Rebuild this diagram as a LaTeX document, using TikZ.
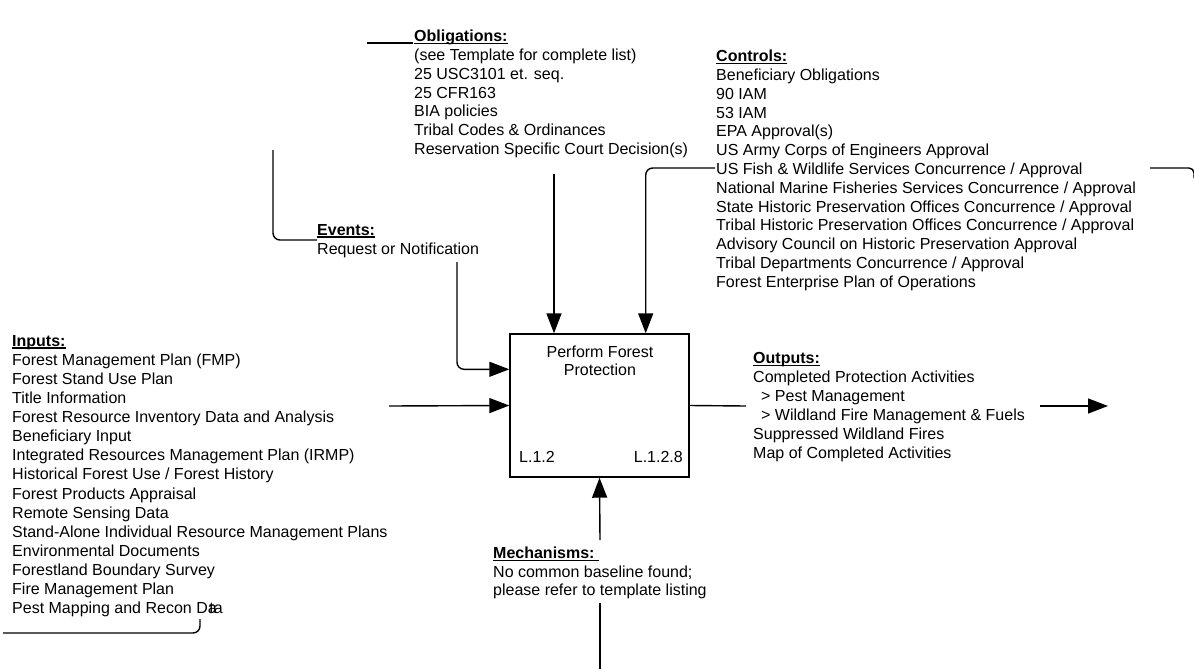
\documentclass[tikz,border=0pt]{standalone}
\usepackage{fontspec}
\setmainfont{Liberation Sans}
\usetikzlibrary{arrows.meta,calc}
% bold heading with a firm underline
\newlength\idefheadwd
\newcommand\idefhead[1]{\settowidth\idefheadwd{\textbf{#1}}%
  \textbf{#1}\llap{\rule[-2.4pt]{\idefheadwd}{1.2pt}}}
\begin{document}
\begin{tikzpicture}[x=1pt,y=-1pt,
  txt/.style={inner sep=0pt, anchor=north west, align=left,
              font=\fontsize{16}{#1}\selectfont},
  txt/.default=18.8,
  lbl/.style={inner sep=0pt, font=\fontsize{16}{18}\selectfont},
  conn/.style={line width=1.4pt, rounded corners=7pt},
  arr/.style={conn, -{Triangle[length=20pt,width=15pt]}}]
\useasboundingbox[fill=white] (0,0) rectangle (1194,669);

% activity box
\node[draw, line width=1.4pt, minimum width=179pt, minimum height=143pt,
      inner sep=0pt] (P) at (599.5,405.5) {};
\node[lbl, align=center, anchor=north] (Ptitle) at (600,346)
  {Perform Forest\\Protection};
\node[lbl, anchor=west] (Pnode) at (519,457) {L.1.2};
\node[lbl, anchor=east] (Pref) at (683,457) {L.1.2.8};

% text blocks
\node[txt] (obl) at (414,30) {\idefhead{Obligations:}\\
  (see Template for complete list)\\
  25 USC3101 et. seq.\\
  25 CFR163\\
  BIA policies\\
  Tribal Codes \& Ordinances\\
  Reservation Specific Court Decision(s)};

\node[txt] (ctl) at (716,50) {\idefhead{Controls:}\\
  Beneficiary Obligations\\
  90 IAM\\
  53 IAM\\
  EPA Approval(s)\\
  US Army Corps of Engineers Approval\\
  US Fish \& Wildlife Services Concurrence / Approval\\
  National Marine Fisheries Services Concurrence / Approval\\
  State Historic Preservation Offices Concurrence / Approval\\
  Tribal Historic Preservation Offices Concurrence / Approval\\
  Advisory Council on Historic Preservation Approval\\
  Tribal Departments Concurrence / Approval\\
  Forest Enterprise Plan of Operations};

\node[txt=19] (ev) at (317,224) {\idefhead{Events:}\\
  Request or Notification};

\node[txt=19.1] (inp) at (12,335) {\idefhead{Inputs:}\\
  Forest Management Plan (FMP)\\
  Forest Stand Use Plan\\
  Title Information\\
  Forest Resource Inventory Data and Analysis\\
  Beneficiary Input\\
  Integrated Resources Management Plan (IRMP)\\
  Historical Forest Use / Forest History\\
  Forest Products Appraisal\\
  Remote Sensing Data\\
  Stand-Alone Individual Resource Management Plans\\
  Environmental Documents\\
  Forestland Boundary Survey\\
  Fire Management Plan\\
  Pest Mapping and Recon D\rlap{a}\kern1.5pt ta};

\node[txt=19] (out) at (753,352) {\idefhead{Outputs:}\\
  Completed Protection Activities\\
  \hspace{8pt}> Pest Management\\
  \hspace{8pt}> Wildland Fire Management \& Fuels\\
  Suppressed Wildland Fires\\
  Map of Completed Activities};

\node[txt=18.5] (mech) at (493,547) {\idefhead{Mechanisms:\ }\\
  No common baseline found;\\
  please refer to template listing};

% free ends of the connectors
\coordinate (oblA) at (367,43);
\coordinate (oblB) at (413,43);
\coordinate (oblDown) at (554,174);
\coordinate (evTop) at (273,150);
\coordinate (evEnd) at (317,240);
\coordinate (evDown) at (457,262);
\coordinate (ctlIn) at (715,168);
\coordinate (ctlR) at (1150,168);
\coordinate (ctlRend) at (1194,178);
\coordinate (inpL) at (3,633);
\coordinate (inpUp) at (200,619);
\coordinate (inpIn) at (389,406);
\coordinate (outGap) at (746,406);
\coordinate (outFrom) at (1040,406);
\coordinate (outTo) at (1108,406);
\coordinate (mechUp) at (600,540);
\coordinate (mechLo) at (600,603);
\coordinate (mechBot) at (600,672);

% connectors
\draw[conn] (oblA) -- (oblB);
\draw[arr] (oblDown) -- (oblDown |- P.north);
\draw[conn] (evTop) |- (evEnd);
\draw[arr] (evDown) |- ($(P.north west)+(0,36)$);
\draw[arr] (ctlIn) -| ($(P.north east)+(-44,0)$);
\draw[conn, rounded corners=5pt] (ctlR) -| (ctlRend);
\draw[conn] (inpL) -| (inpUp);
\draw[arr] (inpIn) -- (P.west);
\draw[conn] (P.east) -- (outGap);
\draw[arr] (outFrom) -- (outTo);
\draw[arr] (mechUp) -- (P.south);
\draw[conn] (mechLo) -- (mechBot);
\end{tikzpicture}
\end{document}
